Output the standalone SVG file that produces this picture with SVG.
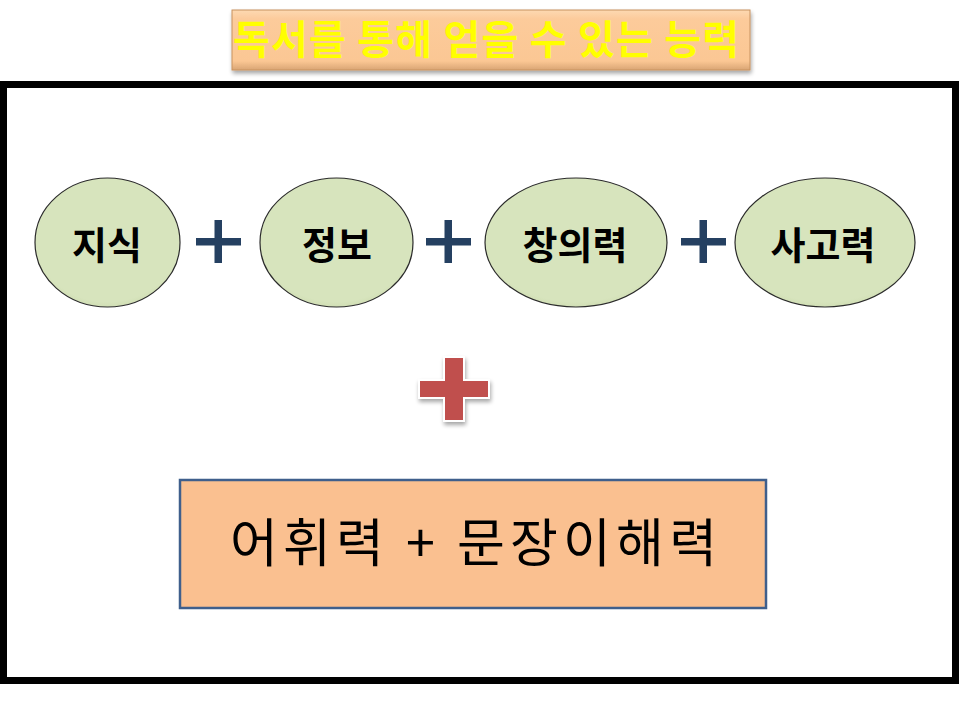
<svg xmlns="http://www.w3.org/2000/svg" width="960" height="720" viewBox="0 0 960 720">
<style>
.node ellipse{fill:url(#gEll);stroke:#2b2b2b;stroke-width:1.2}
.lbl{font-family:"Noto Sans CJK KR","Noto Sans",sans-serif;font-weight:bold;font-size:38px;fill:#000;text-anchor:middle}
.op{fill:#254061}
</style>
<defs>
<radialGradient id="gEll" cx="0.5" cy="0.45" r="0.6">
<stop offset="0" stop-color="#D7E4BD"/>
<stop offset="0.85" stop-color="#D7E4BD"/>
<stop offset="1" stop-color="#C9D8AA"/>
</radialGradient>
<linearGradient id="gTitle" x1="0" y1="0" x2="0" y2="1">
<stop offset="0" stop-color="#FDD9B2"/>
<stop offset="0.15" stop-color="#FCCB9B"/>
<stop offset="0.85" stop-color="#FBC794"/>
<stop offset="1" stop-color="#D9A574"/>
</linearGradient>
<filter id="sh" x="-10%" y="-10%" width="130%" height="140%">
<feGaussianBlur in="SourceAlpha" stdDeviation="2"/>
<feOffset dx="1" dy="3" result="b"/>
<feComponentTransfer><feFuncA type="linear" slope="0.35"/></feComponentTransfer>
<feMerge><feMergeNode/><feMergeNode in="SourceGraphic"/></feMerge>
</filter>
</defs>
<rect width="960" height="720" fill="#fff"/>

<g id="title">
<rect x="232" y="10" width="518" height="60" fill="url(#gTitle)" stroke="#C8925E" stroke-width="1" filter="url(#sh)"/>
<text x="486" y="54" font-family="&quot;Noto Sans CJK KR&quot;,&quot;Noto Sans&quot;,sans-serif" font-weight="bold" font-size="40" fill="#FFFF00" text-anchor="middle" textLength="506" lengthAdjust="spacing">독서를 통해 얻을 수 있는 능력</text>
</g>

<rect id="frame" x="3.5" y="84.5" width="952" height="596" fill="none" stroke="#000" stroke-width="7"/>

<g id="n1" class="node">
<ellipse cx="107.5" cy="242.5" rx="72.5" ry="64.5"/>
<text class="lbl" x="107" y="259">지식</text>
</g>
<g id="n2" class="node">
<ellipse cx="336.5" cy="242.5" rx="76.5" ry="64.5"/>
<text class="lbl" x="337" y="259">정보</text>
</g>
<g id="n3" class="node">
<ellipse cx="576" cy="242.5" rx="91" ry="64.5"/>
<text class="lbl" x="575" y="259">창의력</text>
</g>
<g id="n4" class="node">
<ellipse cx="825" cy="242.5" rx="90" ry="64.5"/>
<text class="lbl" x="823" y="259">사고력</text>
</g>

<g id="connectors">
<g class="op">
<rect x="196" y="238" width="45" height="7.5"/><rect x="214.5" y="220" width="7.5" height="43"/>
<rect x="426" y="238" width="45" height="7.5"/><rect x="444.5" y="220" width="7.5" height="43"/>
<rect x="681" y="238" width="45" height="7.5"/><rect x="699.5" y="220" width="7.5" height="43"/>
</g>
</g>

<g id="redplus" filter="url(#sh)">
<path d="M443 356H465V379H490V399H465V422H443V399H418V379H443Z" fill="#fff"/>
<path d="M445 358H463V381H488V397H463V420H445V397H420V381H445Z" fill="#C0504D"/>
</g>

<g id="result">
<rect x="180" y="480" width="586" height="128" fill="#FAC090" stroke="#3F5F8C" stroke-width="2.5"/>
<text x="473.5" y="562" font-family="&quot;Noto Sans CJK KR&quot;,&quot;Noto Sans&quot;,sans-serif" font-size="52" fill="#000" text-anchor="middle" textLength="487" lengthAdjust="spacing">어휘력 + 문장이해력</text>
</g>
</svg>
